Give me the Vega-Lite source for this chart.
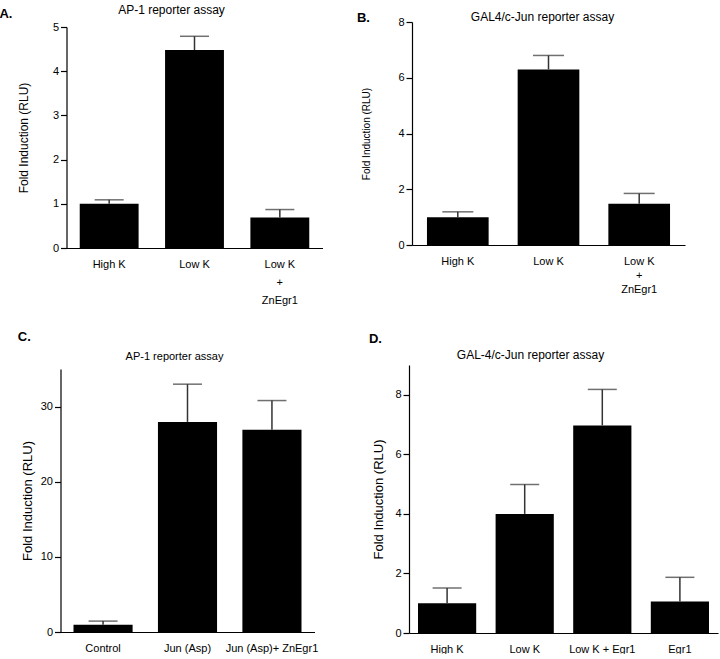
{
  "$schema": "https://vega.github.io/schema/vega-lite/v6.json",
  "background": "white",
  "padding": {"left": -1.5, "top": 4, "right": 0, "bottom": 0},
  "config": {
    "view": {"stroke": null},
    "font": "Liberation Sans",
    "axis": {"domainColor": "black", "domainWidth": 1.2, "tickColor": "black", "tickWidth": 1.2, "labelColor": "black", "titleColor": "black", "grid": false, "labelFont": "Liberation Sans", "titleFont": "Liberation Sans", "titleFontWeight": "normal"},
    "axisX": {"ticks": false, "tickSize": 0, "labelPadding": 10, "labelFontSize": 11, "labelAngle": 0, "labelOverlap": false, "labelLimit": 200},
    "axisY": {"labelFontSize": 11, "labelPadding": 2},
    "title": {"font": "Liberation Sans", "fontWeight": "normal", "fontSize": 12, "color": "black"}
  },
  "spacing": 26,
  "vconcat": [
    {
      "spacing": 33.5,
      "hconcat": [
        {
          "title": {"text": "A.", "anchor": "start", "frame": "bounds", "dx": -18, "offset": -16.5, "fontWeight": "bold", "fontSize": 13},
          "vconcat": [
            {
              "width": 262, "height": 226,
              "title": {"text": "AP-1 reporter assay", "fontSize": 12, "dx": -20, "offset": 4},
              "data": {"values": [
                {"g": "High K", "v": 1.0, "u": 1.09},
                {"g": "Low K", "v": 4.48, "u": 4.79},
                {"g": "Low K + ZnEgr1", "v": 0.69, "u": 0.87}
              ]},
              "encoding": {"x": {"field": "g", "type": "nominal", "sort": null, "title": null,
                "scale": {"range": [6, 262], "paddingInner": 0.31, "paddingOuter": 0.155},
                "axis": {"labelExpr": "datum.value == 'Low K + ZnEgr1' ? ['Low K', '+', 'ZnEgr1'] : datum.label", "labelLineHeight": 18}}},
              "layer": [
                {"mark": {"type": "bar", "color": "black"},
                 "encoding": {"y": {"field": "v", "type": "quantitative",
                   "scale": {"domain": [0, 5], "nice": false, "range": [226, 5]},
                   "axis": {"title": "Fold Induction (RLU)", "titleFontSize": 12, "titlePadding": 22, "offset": -6,
                     "values": [0, 0.5, 1, 1.5, 2, 2.5, 3, 3.5, 4, 4.5, 5],
                     "labelExpr": "datum.value % 1 === 0 ? datum.label : ''",
                     "tickSize": {"condition": {"test": "datum.value % 1 === 0", "value": 6}, "value": 3}}}}},
                {"mark": {"type": "rule", "color": "#333333", "strokeWidth": 1.5},
                 "encoding": {"y": {"field": "v", "type": "quantitative", "title": "Fold Induction (RLU)"}, "y2": {"field": "u"}}},
                {"mark": {"type": "tick", "color": "#333333", "thickness": 1.5, "size": 29},
                 "encoding": {"y": {"field": "u", "type": "quantitative", "title": "Fold Induction (RLU)"}}}
              ]
            }
          ]
        },
        {
          "title": {"text": "B.", "anchor": "start", "frame": "bounds", "dx": -5, "offset": -14, "fontWeight": "bold", "fontSize": 13},
          "vconcat": [
            {
              "width": 273, "height": 223,
              "title": {"text": "GAL4/c-Jun reporter assay", "fontSize": 12, "dx": -6, "offset": -8},
              "data": {"values": [
                {"g": "High K", "v": 1.0, "u": 1.19},
                {"g": "Low K", "v": 6.3, "u": 6.8},
                {"g": "Low K + ZnEgr1", "v": 1.48, "u": 1.85}
              ]},
              "encoding": {"x": {"field": "g", "type": "nominal", "sort": null, "title": null,
                "scale": {"paddingInner": 0.32, "paddingOuter": 0.165},
                "axis": {"labelExpr": "datum.value == 'Low K + ZnEgr1' ? ['Low K', '+', 'ZnEgr1'] : datum.label", "labelLineHeight": 14}}},
              "layer": [
                {"mark": {"type": "bar", "color": "black"},
                 "encoding": {"y": {"field": "v", "type": "quantitative",
                   "scale": {"domain": [0, 8], "nice": false},
                   "axis": {"title": "Fold Induction (RLU)", "titleFontSize": 10, "titlePadding": 26,
                     "values": [0, 1, 2, 3, 4, 5, 6, 7, 8],
                     "labelExpr": "datum.value % 2 === 0 ? datum.label : ''",
                     "tickSize": {"condition": {"test": "datum.value % 2 === 0", "value": 6}, "value": 3}}}}},
                {"mark": {"type": "rule", "color": "#333333", "strokeWidth": 1.5},
                 "encoding": {"y": {"field": "v", "type": "quantitative", "title": "Fold Induction (RLU)"}, "y2": {"field": "u"}}},
                {"mark": {"type": "tick", "color": "#333333", "thickness": 1.5, "size": 31},
                 "encoding": {"y": {"field": "u", "type": "quantitative", "title": "Fold Induction (RLU)"}}}
              ]
            }
          ]
        }
      ]
    },
    {
      "spacing": 49.5,
      "hconcat": [
        {
          "title": {"text": "C.", "anchor": "start", "frame": "bounds", "dx": -3.5, "offset": 7, "fontWeight": "bold", "fontSize": 13},
          "vconcat": [
            {
              "width": 254, "height": 267,
              "title": {"text": "AP-1 reporter assay", "fontSize": 11, "dx": -13, "offset": 3},
              "data": {"values": [
                {"g": "Control", "v": 0.95, "u": 1.45},
                {"g": "Jun (Asp)", "v": 27.96, "u": 32.98},
                {"g": "Jun (Asp)+ ZnEgr1", "v": 26.9, "u": 30.8}
              ]},
              "encoding": {"x": {"field": "g", "type": "nominal", "sort": null, "title": null,
                "scale": {"paddingInner": 0.30, "paddingOuter": 0.154}}},
              "layer": [
                {"mark": {"type": "bar", "color": "black"},
                 "encoding": {"y": {"field": "v", "type": "quantitative",
                   "scale": {"domain": [0, 35], "nice": false, "range": [267, 4]},
                   "axis": {"title": "Fold Induction (RLU)", "titleFontSize": 13, "titlePadding": 6,
                     "values": [0, 5, 10, 15, 20, 25, 30, 35],
                     "labelExpr": "datum.value % 10 === 0 ? datum.label : ''",
                     "tickSize": {"condition": {"test": "datum.value % 10 === 0", "value": 6}, "value": 3}}}}},
                {"mark": {"type": "rule", "color": "#333333", "strokeWidth": 1.5},
                 "encoding": {"y": {"field": "v", "type": "quantitative", "title": "Fold Induction (RLU)"}, "y2": {"field": "u"}}},
                {"mark": {"type": "tick", "color": "#333333", "thickness": 1.5, "size": 29},
                 "encoding": {"y": {"field": "u", "type": "quantitative", "title": "Fold Induction (RLU)"}}}
              ]
            }
          ]
        },
        {
          "title": {"text": "D.", "anchor": "start", "frame": "bounds", "dx": -4, "offset": 3, "fontWeight": "bold", "fontSize": 13},
          "vconcat": [
            {
              "width": 309, "height": 268,
              "title": {"text": "GAL-4/c-Jun reporter assay", "fontSize": 12, "dx": -33, "offset": 3},
              "data": {"values": [
                {"g": "High K", "v": 1.0, "u": 1.51},
                {"g": "Low K", "v": 4.0, "u": 4.99},
                {"g": "Low K + Egr1", "v": 6.97, "u": 8.18},
                {"g": "Egr1", "v": 1.06, "u": 1.87}
              ]},
              "encoding": {"x": {"field": "g", "type": "nominal", "sort": null, "title": null,
                "scale": {"paddingInner": 0.25, "paddingOuter": 0.116}}},
              "layer": [
                {"mark": {"type": "bar", "color": "black"},
                 "encoding": {"y": {"field": "v", "type": "quantitative",
                   "scale": {"domain": [0, 9], "nice": false},
                   "axis": {"title": "Fold Induction (RLU)", "titleFontSize": 13, "titlePadding": 9,
                     "values": [0, 1, 2, 3, 4, 5, 6, 7, 8, 9],
                     "labelExpr": "datum.value % 2 === 0 ? datum.label : ''",
                     "tickSize": {"condition": {"test": "datum.value % 2 === 0", "value": 6}, "value": 3}}}}},
                {"mark": {"type": "rule", "color": "#333333", "strokeWidth": 1.5},
                 "encoding": {"y": {"field": "v", "type": "quantitative", "title": "Fold Induction (RLU)"}, "y2": {"field": "u"}}},
                {"mark": {"type": "tick", "color": "#333333", "thickness": 1.5, "size": 29},
                 "encoding": {"y": {"field": "u", "type": "quantitative", "title": "Fold Induction (RLU)"}}}
              ]
            }
          ]
        }
      ]
    }
  ]
}
